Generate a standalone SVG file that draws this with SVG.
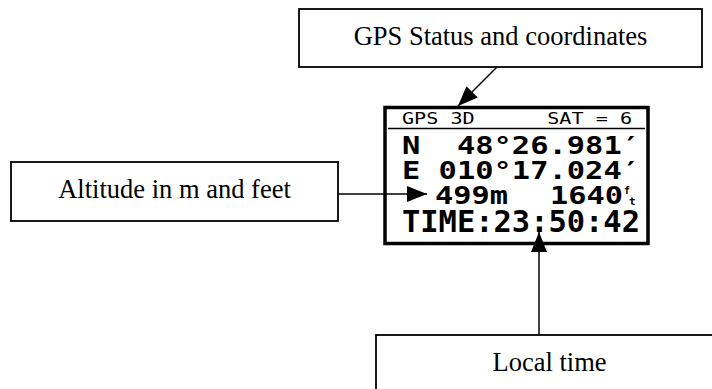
<svg xmlns="http://www.w3.org/2000/svg" width="712" height="389" viewBox="0 0 712 389">
<style>
.box{fill:#fff;stroke:#000;stroke-width:1.8}
.lbl{font-family:"Liberation Serif","Times New Roman",serif;font-size:26.5px;fill:#000;text-anchor:middle}
.lcd{font-family:"DejaVu Sans Mono",monospace;font-weight:bold;fill:#000;white-space:pre}
.lcds{font-family:"DejaVu Sans Mono",monospace;font-size:15px;fill:#000;white-space:pre}
.conn{stroke:#000;stroke-width:1.5;fill:none}
</style>
<defs>
<marker id="ah" markerUnits="userSpaceOnUse" markerWidth="20" markerHeight="16" refX="20" refY="8" orient="auto">
<path d="M0,0 L20,8 L0,16 z" fill="#000"/>
</marker>
</defs>
<rect width="712" height="389" fill="#fff"/>
<g id="node-gps-status">
<rect class="box" x="299" y="9" width="403" height="58"/>
<text class="lbl" x="500.5" y="45">GPS Status and coordinates</text>
</g>
<g id="node-altitude">
<rect class="box" x="11" y="162" width="327" height="59"/>
<text class="lbl" x="174.5" y="198">Altitude in m and feet</text>
</g>
<g id="node-local-time">
<rect class="box" x="376" y="335" width="350" height="80"/>
<text class="lbl" x="549.5" y="371">Local time</text>
</g>
<g id="node-display">
<rect x="385" y="107.5" width="263" height="136" fill="#fff" stroke="#000" stroke-width="3.5"/>
<line x1="388" y1="128.5" x2="645" y2="128.5" stroke="#000" stroke-width="1.3"/>
<text class="lcds" xml:space="preserve" x="402" y="124" textLength="230" lengthAdjust="spacingAndGlyphs">GPS 3D      SAT = 6</text>
<text class="lcd" xml:space="preserve" x="402" y="154" font-size="24" textLength="238" lengthAdjust="spacingAndGlyphs">N  48°26.981′</text>
<text class="lcd" xml:space="preserve" x="402" y="179" font-size="24" textLength="238" lengthAdjust="spacingAndGlyphs">E 010°17.024′</text>
<text class="lcd" x="435" y="204" font-size="24" textLength="73" lengthAdjust="spacingAndGlyphs">499m</text>
<text class="lcd" x="550" y="204" font-size="24" textLength="73" lengthAdjust="spacingAndGlyphs">1640</text>
<text class="lcd" x="624" y="194" font-size="10">f</text>
<text class="lcd" x="629" y="205" font-size="11">t</text>
<text class="lcd" x="402" y="232" font-size="30" textLength="238" lengthAdjust="spacingAndGlyphs">TIME:23:50:42</text>
</g>
<g id="connectors">
<line class="conn" x1="497" y1="67" x2="458" y2="106" marker-end="url(#ah)"/>
<line class="conn" x1="338" y1="194" x2="427" y2="194" marker-end="url(#ah)"/>
<line class="conn" x1="539" y1="335" x2="539" y2="232" marker-end="url(#ah)"/>
</g>
</svg>
